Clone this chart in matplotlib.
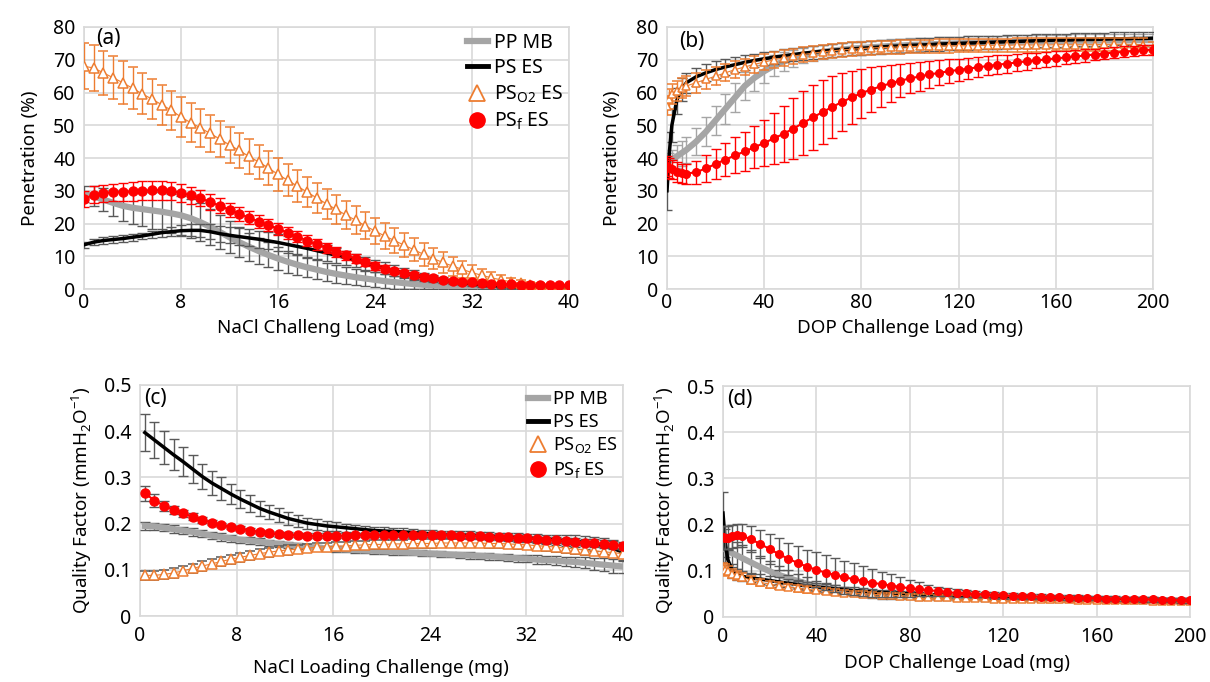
import numpy as np
import matplotlib.pyplot as plt
from matplotlib.lines import Line2D

plt.rcParams['font.family'] = ['Noto Sans', 'DejaVu Sans']

GRAY = '#A5A5A5'
DARK = '#595959'
ORANGE = '#ED7D31'
RED = '#FF0000'
GRID = '#D9D9D9'

# loading axes (mg)
nacl_a = np.arange(51) * 0.8
nacl_c = np.linspace(0.4, 40, 51)
dop = np.array([0, 1, 2, 4, 6] + list(range(8, 201, 4)))

# ---- (a) penetration vs NaCl load ----
pen_pp_a = [29.0, 28.3, 27.3, 26.3, 25.4, 24.8, 24.4, 24.0, 23.6, 23.1,
            22.5, 21.6, 20.4, 19.0, 17.4, 15.8, 14.3, 12.9, 11.6, 10.4,
            9.3, 8.3, 7.4, 6.6, 5.9, 5.2, 4.6, 4.1, 3.6, 3.2,
            2.8, 2.4, 2.1, 1.8, 1.5, 1.3, 1.1, 0.9, 0.8, 0.7,
            0.6, 0.5, 0.4, 0.4, 0.3, 0.3, 0.2, 0.2, 0.2, 0.2, 0.2]
err_pp_a = [2.5, 3.0, 3.5, 4.0, 4.5, 5.0, 5.3, 5.6, 5.9, 6.0,
            6.0, 6.0, 5.8, 5.5, 5.2, 4.9, 4.6, 4.3, 4.0, 3.8,
            3.6, 3.4, 3.2, 3.0, 2.9, 2.8, 2.7, 2.6, 2.5, 2.4,
            2.3, 2.2, 2.0, 1.8, 1.6, 1.4, 1.2, 1.0, 0.9, 0.8,
            0.7, 0.6, 0.5, 0.5, 0.4, 0.4, 0.3, 0.3, 0.3, 0.3, 0.3]
pen_ps_a = [13.5, 14.3, 14.8, 15.1, 15.4, 15.8, 16.2, 16.7, 17.2, 17.5,
            17.8, 17.9, 17.9, 17.5, 16.9, 16.4, 16.0, 15.6, 15.2, 14.7,
            14.2, 13.6, 13.0, 12.4, 11.7, 11.0, 10.3, 9.5, 8.7, 7.9,
            7.1, 6.3, 5.6, 4.9, 4.3, 3.7, 3.2, 2.7, 2.3, 1.9,
            1.6, 1.3, 1.1, 0.9, 0.8, 0.7, 0.6, 0.5, 0.5, 0.4, 0.4]
err_ps_a = [1.0, 1.0, 1.0, 1.0, 1.0, 1.0, 1.0, 1.0, 1.2, 1.4,
            1.6, 1.8, 2.0, 2.2, 2.4, 2.5, 2.6, 2.6, 2.6, 2.6,
            2.6, 2.6, 2.5, 2.5, 2.4, 2.4, 2.3, 2.2, 2.1, 2.0,
            1.9, 1.8, 1.7, 1.6, 1.4, 1.2, 1.1, 1.0, 0.9, 0.8,
            0.7, 0.6, 0.5, 0.5, 0.4, 0.4, 0.3, 0.3, 0.3, 0.3, 0.3]
pen_o2_a = [68.0, 67.5, 66.0, 64.5, 63.0, 61.3, 59.6, 58.0, 56.3, 54.6,
            52.5, 50.8, 49.2, 47.5, 45.8, 44.0, 42.3, 40.5, 38.8, 37.0,
            35.0, 33.2, 31.4, 29.6, 27.8, 26.0, 24.3, 22.6, 21.0, 19.3,
            17.7, 16.2, 14.8, 13.4, 12.0, 10.6, 9.3, 8.1, 7.0, 6.0,
            5.0, 4.2, 3.4, 2.8, 2.2, 1.7, 1.3, 1.0, 0.8, 0.6, 0.5]
err_o2_a = [7.0, 7.0, 6.8, 6.6, 6.5, 6.4, 6.3, 6.2, 6.1, 6.0,
            6.0, 5.9, 5.8, 5.7, 5.6, 5.5, 5.4, 5.3, 5.2, 5.1,
            5.0, 4.9, 4.8, 4.7, 4.6, 4.5, 4.4, 4.3, 4.2, 4.1,
            4.0, 3.9, 3.8, 3.7, 3.6, 3.5, 3.3, 3.1, 2.9, 2.6,
            2.3, 2.0, 1.7, 1.4, 1.2, 1.0, 0.8, 0.7, 0.6, 0.5, 0.4]
pen_f_a = [27.5, 28.8, 29.3, 29.5, 29.6, 29.8, 30.0, 30.2, 30.2, 29.9,
           29.3, 28.6, 27.7, 26.6, 25.4, 24.2, 23.0, 21.8, 20.6, 19.5,
           18.4, 17.2, 16.0, 14.8, 13.6, 12.5, 11.4, 10.3, 9.3, 8.1,
           7.0, 6.2, 5.5, 4.9, 4.3, 3.8, 3.3, 2.9, 2.5, 2.2,
           2.0, 1.8, 1.6, 1.5, 1.4, 1.3, 1.3, 1.2, 1.2, 1.2, 1.2]
err_f_a = [2.5, 2.5, 2.6, 2.7, 2.8, 2.8, 2.9, 2.9, 2.9, 2.8,
           2.7, 2.6, 2.5, 2.4, 2.3, 2.2, 2.1, 2.0, 2.0, 1.9,
           1.9, 1.8, 1.8, 1.7, 1.7, 1.6, 1.5, 1.4, 1.3, 1.2,
           1.1, 1.0, 0.9, 0.8, 0.8, 0.7, 0.7, 0.6, 0.6, 0.5,
           0.5, 0.5, 0.4, 0.4, 0.4, 0.4, 0.3, 0.3, 0.3, 0.3, 0.3]

# ---- (b) penetration vs DOP load ----
pen_pp_b = [38.5, 39.0, 39.5, 40.5, 41.5, 42.5, 45.0, 48.0, 51.5, 55.0,
            58.5, 62.0, 64.5, 66.5, 68.2, 69.5, 70.5, 71.3, 71.9, 72.4,
            72.8, 73.1, 73.4, 73.6, 73.8, 74.0, 74.2, 74.3, 74.5, 74.6,
            74.7, 74.8, 74.9, 75.0, 75.1, 75.2, 75.3, 75.3, 75.4, 75.5,
            75.5, 75.6, 75.6, 75.7, 75.7, 75.8, 75.8, 75.8, 75.9, 75.9,
            75.9, 76.0, 76.0, 76.0]
err_pp_b = [2.0, 2.5, 3.0, 3.5, 3.8, 4.0, 4.2, 4.4, 4.5, 4.5,
            4.4, 4.2, 4.0, 3.6, 3.2, 2.9, 2.6, 2.4, 2.2, 2.1,
            2.0, 2.0, 2.0, 2.0, 2.0, 2.0, 2.0, 2.0, 2.0, 2.0,
            2.0, 2.0, 2.0, 2.0, 2.0, 2.0, 2.0, 2.0, 2.0, 2.0,
            2.0, 2.0, 2.0, 2.0, 2.0, 2.0, 2.0, 2.0, 2.0, 2.0,
            2.0, 2.0, 2.0, 2.0]
pen_ps_b = [30.0, 42.0, 50.0, 57.5, 61.0, 63.0, 64.8, 66.0, 67.0, 67.8,
            68.5, 69.2, 69.8, 70.3, 70.8, 71.2, 71.6, 72.0, 72.3, 72.6,
            72.9, 73.1, 73.3, 73.5, 73.7, 73.9, 74.1, 74.2, 74.4, 74.5,
            74.6, 74.8, 74.9, 75.0, 75.1, 75.2, 75.3, 75.4, 75.5, 75.6,
            75.7, 75.8, 75.9, 76.0, 76.0, 76.1, 76.2, 76.2, 76.3, 76.4,
            76.4, 76.5, 76.5, 76.6]
err_ps_b = [6.0, 6.0, 5.0, 4.0, 3.5, 3.0, 2.8, 2.6, 2.5, 2.4,
            2.3, 2.2, 2.1, 2.0, 2.0, 2.0, 2.0, 2.0, 2.0, 2.0,
            2.0, 2.0, 2.0, 2.0, 2.0, 2.0, 2.0, 2.0, 2.0, 2.0,
            2.0, 2.0, 2.0, 2.0, 2.0, 2.0, 2.0, 2.0, 2.0, 2.0,
            2.0, 2.0, 2.0, 2.0, 2.0, 2.0, 2.0, 2.0, 2.0, 2.0,
            2.0, 2.0, 2.0, 2.0]
pen_o2_b = [56.0, 58.0, 59.5, 60.5, 61.3, 62.0, 63.0, 64.0, 65.0, 66.0,
            67.0, 67.8, 68.6, 69.3, 70.0, 70.6, 71.1, 71.6, 72.0, 72.4,
            72.7, 73.0, 73.2, 73.4, 73.6, 73.7, 73.8, 73.9, 74.0, 74.1,
            74.1, 74.2, 74.2, 74.3, 74.3, 74.3, 74.4, 74.4, 74.4, 74.5,
            74.5, 74.5, 74.5, 74.6, 74.6, 74.6, 74.6, 74.6, 74.7, 74.7,
            74.7, 74.7, 74.6, 73.5]
err_o2_b = [3.0, 3.0, 3.0, 3.0, 3.0, 3.0, 3.0, 2.8, 2.7, 2.6,
            2.5, 2.5, 2.5, 2.4, 2.4, 2.4, 2.3, 2.3, 2.3, 2.2,
            2.2, 2.2, 2.1, 2.1, 2.1, 2.0, 2.0, 2.0, 2.0, 2.0,
            2.0, 2.0, 2.0, 2.0, 2.0, 2.0, 2.0, 2.0, 2.0, 2.0,
            2.0, 2.0, 2.0, 2.0, 2.0, 2.0, 2.0, 2.0, 2.0, 2.0,
            2.0, 2.0, 2.0, 2.0]
pen_f_b = [37.5, 37.0, 36.5, 35.8, 35.3, 35.2, 35.7, 36.8, 38.2, 39.5,
           40.8, 42.0, 43.3, 44.6, 46.0, 47.4, 49.0, 50.7, 52.4, 54.0,
           55.6, 57.1, 58.5, 59.8, 60.9, 61.9, 62.8, 63.6, 64.3, 64.9,
           65.5, 66.0, 66.5, 66.9, 67.3, 67.7, 68.1, 68.5, 68.8, 69.2,
           69.5, 69.8, 70.1, 70.4, 70.7, 71.0, 71.3, 71.6, 71.9, 72.2,
           72.4, 72.7, 72.9, 73.1]
err_f_b = [3.0, 3.0, 3.0, 3.0, 3.0, 3.0, 3.5, 4.0, 4.5, 5.0,
           5.5, 6.0, 6.5, 7.0, 7.8, 8.5, 9.2, 9.8, 10.0, 9.8,
           9.4, 8.8, 8.2, 7.5, 6.8, 6.2, 5.6, 5.1, 4.6, 4.3,
           4.0, 3.8, 3.6, 3.4, 3.2, 3.0, 2.9, 2.8, 2.7, 2.6,
           2.5, 2.4, 2.3, 2.2, 2.1, 2.0, 1.9, 1.8, 1.8, 1.7,
           1.7, 1.6, 1.6, 1.5]

# ---- (c) quality factor vs NaCl load ----
qf_pp_c = [0.195, 0.194, 0.191, 0.188, 0.185, 0.182, 0.178, 0.174, 0.171, 0.168,
           0.165, 0.163, 0.161, 0.158, 0.156, 0.154, 0.152, 0.150, 0.148, 0.146,
           0.145, 0.144, 0.143, 0.142, 0.141, 0.140, 0.139, 0.138, 0.137, 0.136,
           0.135, 0.134, 0.133, 0.132, 0.131, 0.130, 0.129, 0.128, 0.126, 0.125,
           0.124, 0.122, 0.121, 0.120, 0.118, 0.117, 0.115, 0.113, 0.111, 0.109, 0.107]
err_pp_c = [0.008, 0.008, 0.008, 0.008, 0.008, 0.008, 0.008, 0.008, 0.008, 0.008,
            0.007, 0.007, 0.007, 0.007, 0.007, 0.007, 0.006, 0.006, 0.006, 0.006,
            0.006, 0.006, 0.006, 0.006, 0.006, 0.006, 0.006, 0.006, 0.006, 0.006,
            0.006, 0.006, 0.006, 0.006, 0.007, 0.007, 0.007, 0.007, 0.008, 0.008,
            0.008, 0.009, 0.009, 0.010, 0.010, 0.011, 0.012, 0.013, 0.014, 0.015, 0.015]
qf_ps_c = [0.397, 0.381, 0.365, 0.349, 0.334, 0.318, 0.302, 0.288, 0.276, 0.264,
           0.253, 0.243, 0.233, 0.225, 0.218, 0.211, 0.206, 0.201, 0.198, 0.195,
           0.193, 0.191, 0.189, 0.187, 0.185, 0.184, 0.183, 0.182, 0.181, 0.179,
           0.178, 0.177, 0.176, 0.176, 0.175, 0.174, 0.173, 0.172, 0.171, 0.170,
           0.169, 0.168, 0.166, 0.165, 0.163, 0.162, 0.159, 0.156, 0.152, 0.146, 0.138]
err_ps_c = [0.040, 0.038, 0.036, 0.034, 0.032, 0.030, 0.028, 0.026, 0.024, 0.022,
            0.020, 0.018, 0.017, 0.016, 0.015, 0.014, 0.013, 0.012, 0.011, 0.010,
            0.010, 0.009, 0.009, 0.008, 0.008, 0.008, 0.008, 0.008, 0.008, 0.008,
            0.008, 0.008, 0.008, 0.008, 0.008, 0.008, 0.008, 0.008, 0.008, 0.009,
            0.009, 0.010, 0.010, 0.011, 0.012, 0.013, 0.014, 0.015, 0.017, 0.019, 0.020]
qf_o2_c = [0.088, 0.088, 0.090, 0.093, 0.098, 0.103, 0.108, 0.113, 0.118, 0.123,
           0.127, 0.131, 0.135, 0.138, 0.141, 0.143, 0.145, 0.147, 0.149, 0.150,
           0.151, 0.152, 0.153, 0.154, 0.155, 0.155, 0.156, 0.156, 0.157, 0.157,
           0.157, 0.158, 0.158, 0.158, 0.158, 0.158, 0.157, 0.157, 0.156, 0.155,
           0.154, 0.152, 0.151, 0.149, 0.147, 0.145, 0.143, 0.141, 0.139, 0.137, 0.135]
err_o2_c = [0.010, 0.010, 0.010, 0.010, 0.010, 0.010, 0.010, 0.010, 0.010, 0.010,
            0.010, 0.010, 0.010, 0.010, 0.010, 0.010, 0.009, 0.009, 0.009, 0.009,
            0.009, 0.009, 0.009, 0.009, 0.009, 0.009, 0.009, 0.009, 0.009, 0.009,
            0.009, 0.009, 0.009, 0.009, 0.009, 0.009, 0.009, 0.009, 0.009, 0.009,
            0.009, 0.009, 0.010, 0.010, 0.010, 0.010, 0.010, 0.010, 0.010, 0.010, 0.010]
qf_f_c = [0.266, 0.250, 0.239, 0.230, 0.222, 0.215, 0.208, 0.202, 0.197, 0.193,
          0.189, 0.185, 0.182, 0.179, 0.177, 0.176, 0.175, 0.174, 0.174, 0.174,
          0.174, 0.174, 0.175, 0.175, 0.175, 0.175, 0.175, 0.175, 0.175, 0.175,
          0.175, 0.175, 0.175, 0.174, 0.174, 0.173, 0.172, 0.171, 0.170, 0.169,
          0.168, 0.166, 0.165, 0.164, 0.162, 0.161, 0.159, 0.158, 0.156, 0.154, 0.152]
err_f_c = [0.016, 0.013, 0.011, 0.009, 0.008, 0.007, 0.006, 0.006, 0.005, 0.005,
           0.005, 0.005, 0.005, 0.005, 0.005, 0.005, 0.005, 0.005, 0.005, 0.005,
           0.005, 0.005, 0.005, 0.005, 0.005, 0.005, 0.005, 0.005, 0.005, 0.005,
           0.005, 0.005, 0.005, 0.005, 0.005, 0.005, 0.005, 0.005, 0.005, 0.006,
           0.006, 0.006, 0.006, 0.007, 0.007, 0.007, 0.008, 0.008, 0.008, 0.009, 0.009]

# ---- (d) quality factor vs DOP load ----
qf_pp_d = [0.148, 0.146, 0.143, 0.138, 0.133, 0.128, 0.118, 0.108, 0.099, 0.091,
           0.084, 0.078, 0.072, 0.067, 0.063, 0.059, 0.056, 0.053, 0.051, 0.049,
           0.047, 0.046, 0.045, 0.044, 0.043, 0.043, 0.042, 0.042, 0.041, 0.041,
           0.041, 0.040, 0.040, 0.040, 0.039, 0.039, 0.039, 0.039, 0.038, 0.038,
           0.038, 0.038, 0.037, 0.037, 0.037, 0.037, 0.036, 0.036, 0.036, 0.036,
           0.036, 0.035, 0.035, 0.035]
err_pp_d = [0.030, 0.030, 0.030, 0.030, 0.030, 0.028, 0.026, 0.024, 0.022, 0.020,
            0.018, 0.016, 0.014, 0.012, 0.011, 0.010, 0.009, 0.008, 0.008, 0.007,
            0.007, 0.006, 0.006, 0.006, 0.006, 0.005, 0.005, 0.005, 0.005, 0.005,
            0.005, 0.005, 0.005, 0.005, 0.005, 0.005, 0.005, 0.005, 0.005, 0.005,
            0.005, 0.005, 0.005, 0.005, 0.005, 0.005, 0.005, 0.005, 0.005, 0.005,
            0.005, 0.005, 0.005, 0.005]
qf_ps_d = [0.225, 0.160, 0.125, 0.100, 0.092, 0.088, 0.085, 0.082, 0.079, 0.076,
           0.073, 0.070, 0.067, 0.065, 0.063, 0.061, 0.059, 0.057, 0.056, 0.054,
           0.053, 0.052, 0.051, 0.050, 0.049, 0.048, 0.047, 0.046, 0.045, 0.045,
           0.044, 0.044, 0.043, 0.043, 0.042, 0.042, 0.042, 0.041, 0.041, 0.041,
           0.040, 0.040, 0.040, 0.039, 0.039, 0.039, 0.038, 0.038, 0.038, 0.038,
           0.037, 0.037, 0.037, 0.037]
err_ps_d = [0.045, 0.030, 0.020, 0.015, 0.012, 0.010, 0.010, 0.010, 0.010, 0.010,
            0.009, 0.009, 0.009, 0.008, 0.008, 0.008, 0.007, 0.007, 0.007, 0.006,
            0.006, 0.006, 0.006, 0.006, 0.005, 0.005, 0.005, 0.005, 0.005, 0.005,
            0.005, 0.005, 0.005, 0.005, 0.005, 0.005, 0.005, 0.005, 0.005, 0.005,
            0.005, 0.005, 0.005, 0.005, 0.005, 0.005, 0.005, 0.005, 0.005, 0.005,
            0.005, 0.005, 0.005, 0.005]
qf_o2_d = [0.105, 0.102, 0.099, 0.094, 0.090, 0.086, 0.080, 0.075, 0.071, 0.068,
           0.065, 0.062, 0.060, 0.058, 0.056, 0.054, 0.053, 0.051, 0.050, 0.049,
           0.048, 0.047, 0.046, 0.045, 0.044, 0.044, 0.043, 0.043, 0.042, 0.042,
           0.041, 0.041, 0.040, 0.040, 0.040, 0.039, 0.039, 0.039, 0.038, 0.038,
           0.038, 0.037, 0.037, 0.037, 0.037, 0.036, 0.036, 0.036, 0.036, 0.035,
           0.035, 0.035, 0.035, 0.035]
err_o2_d = [0.012, 0.012, 0.011, 0.010, 0.010, 0.009, 0.009, 0.008, 0.008, 0.008,
            0.007, 0.007, 0.007, 0.007, 0.006, 0.006, 0.006, 0.006, 0.006, 0.006,
            0.005, 0.005, 0.005, 0.005, 0.005, 0.005, 0.005, 0.005, 0.005, 0.005,
            0.005, 0.005, 0.005, 0.005, 0.005, 0.005, 0.005, 0.005, 0.005, 0.005,
            0.005, 0.005, 0.005, 0.005, 0.005, 0.005, 0.005, 0.005, 0.005, 0.005,
            0.005, 0.005, 0.005, 0.005]
qf_f_d = [0.173, 0.172, 0.172, 0.175, 0.177, 0.176, 0.168, 0.158, 0.147, 0.136,
          0.126, 0.117, 0.109, 0.102, 0.096, 0.091, 0.086, 0.082, 0.078, 0.074,
          0.071, 0.068, 0.065, 0.062, 0.060, 0.058, 0.056, 0.054, 0.052, 0.051,
          0.050, 0.049, 0.048, 0.047, 0.046, 0.045, 0.045, 0.044, 0.043, 0.043,
          0.042, 0.042, 0.041, 0.041, 0.040, 0.040, 0.039, 0.039, 0.038, 0.038,
          0.037, 0.037, 0.036, 0.036]
err_f_d = [0.025, 0.025, 0.025, 0.025, 0.025, 0.025, 0.028, 0.030, 0.032, 0.034,
           0.035, 0.036, 0.037, 0.038, 0.038, 0.037, 0.036, 0.034, 0.032, 0.030,
           0.027, 0.024, 0.021, 0.018, 0.015, 0.012, 0.010, 0.009, 0.008, 0.007,
           0.007, 0.006, 0.006, 0.006, 0.005, 0.005, 0.005, 0.005, 0.005, 0.005,
           0.005, 0.005, 0.005, 0.005, 0.005, 0.005, 0.005, 0.005, 0.005, 0.005,
           0.005, 0.005, 0.005, 0.005]

labels = ['PP MB', 'PS ES', r'PS$_\mathregular{O2}$ ES', r'PS$_\mathregular{f}$ ES']


def series(ax, x, y, err, kind, ecolor, ms=7, cap=3.5):
    common = dict(yerr=err, ecolor=ecolor, elinewidth=1, capsize=cap, capthick=1)
    if kind == 'pp':
        ax.errorbar(x, y, fmt='-', color=GRAY, lw=4.5, zorder=3, **common)
    elif kind == 'ps':
        ax.errorbar(x, y, fmt='-', color='black', lw=2.5, zorder=4, **common)
    elif kind == 'o2':
        ax.errorbar(x, y, fmt='-^', color=ORANGE, lw=0.8, ms=ms, mfc='white',
                    mec=ORANGE, mew=1.1, zorder=5, **common)
    else:
        ax.errorbar(x, y, fmt='-o', color=RED, lw=1.5, ms=ms, mec=RED,
                    zorder=6, **common)


def style(ax, xmax, xstep, ymax, ystep, yfmt, xpad):
    ax.set_xlim(0, xmax)
    ax.set_ylim(0, ymax)
    ax.set_xticks(np.arange(0, xmax + 0.001, xstep))
    yt = np.arange(0, ymax + ystep / 2, ystep)
    ax.set_yticks(yt)
    ax.set_yticklabels([yfmt(v) for v in yt])
    ax.grid(True, color=GRID, lw=1.2, zorder=0)
    ax.set_axisbelow(True)
    for s in ax.spines.values():
        s.set_color(GRID)
        s.set_linewidth(1.2)
    ax.tick_params(length=0, labelsize=14, pad=6)
    ax.tick_params(axis='x', pad=xpad)


def legend(ax, fs, spacing):
    handles = [Line2D([], [], color=GRAY, lw=4.5),
               Line2D([], [], color='black', lw=3.5),
               Line2D([], [], ls='none', marker='^', ms=11, mfc='white',
                      mec=ORANGE, mew=1.3),
               Line2D([], [], ls='none', marker='o', ms=11, color=RED)]
    ax.legend(handles, labels, loc='upper right', frameon=False, fontsize=fs,
              handlelength=1.1, handletextpad=0.3, labelspacing=spacing,
              borderaxespad=0.2, borderpad=0.1)


fig = plt.figure(figsize=(12.1, 6.82), dpi=100)
W, H = 1210, 682


def axes_px(x0, x1, ytop, ybot):
    return fig.add_axes([x0 / W, 1 - ybot / H, (x1 - x0) / W, (ybot - ytop) / H])


ax_a = axes_px(84, 569, 27, 289)
ax_b = axes_px(667, 1153, 27, 289)
ax_c = axes_px(140, 623, 385, 616)
ax_d = axes_px(723, 1190, 386, 617)

pct = lambda v: f'{int(round(v))}'
qf = lambda v: '0' if abs(v) < 1e-9 else f'{v:.1f}'

# (a)
series(ax_a, nacl_a, pen_pp_a, err_pp_a, 'pp', DARK)
series(ax_a, nacl_a, pen_ps_a, err_ps_a, 'ps', DARK)
series(ax_a, nacl_a, pen_o2_a, err_o2_a, 'o2', ORANGE, ms=7.5)
series(ax_a, nacl_a, pen_f_a, err_f_a, 'f', RED, ms=6.5)
style(ax_a, 40, 8, 80, 10, pct, 3)
legend(ax_a, 14, 0.28)

# (b)
series(ax_b, dop, pen_pp_b, err_pp_b, 'pp', GRAY)
series(ax_b, dop, pen_ps_b, err_ps_b, 'ps', DARK)
series(ax_b, dop, pen_o2_b, err_o2_b, 'o2', ORANGE, ms=6)
series(ax_b, dop, pen_f_b, err_f_b, 'f', RED, ms=5.5)
style(ax_b, 200, 40, 80, 10, pct, 3)

# (c)
series(ax_c, nacl_c, qf_pp_c, err_pp_c, 'pp', DARK)
series(ax_c, nacl_c, qf_ps_c, err_ps_c, 'ps', DARK)
series(ax_c, nacl_c, qf_o2_c, err_o2_c, 'o2', DARK, ms=7)
series(ax_c, nacl_c, qf_f_c, err_f_c, 'f', DARK, ms=6.5)
style(ax_c, 40, 8, 0.5, 0.1, qf, 7)
legend(ax_c, 13, 0.25)

# (d)
series(ax_d, dop, qf_pp_d, err_pp_d, 'pp', DARK)
series(ax_d, dop, qf_ps_d, err_ps_d, 'ps', DARK)
series(ax_d, dop, qf_o2_d, err_o2_d, 'o2', ORANGE, ms=6)
series(ax_d, dop, qf_f_d, err_f_d, 'f', DARK, ms=5.5)
style(ax_d, 200, 40, 0.5, 0.1, qf, 7)

for ax, tag, dx, dy in [(ax_a, '(a)', 0.025, 0.995), (ax_b, '(b)', 0.025, 0.985),
                        (ax_c, '(c)', 0.008, 0.985), (ax_d, '(d)', 0.008, 0.985)]:
    ax.text(dx, dy, tag, transform=ax.transAxes, fontsize=15, va='top', ha='left',
            zorder=10)


# axis titles placed in figure pixels
def ftext(x, y, s, rot=0):
    fig.text(x / W, 1 - y / H, s, ha='center', va='center', rotation=rot, fontsize=13.5)


ftext(30, 158, 'Penetration (%)', 90)
ftext(326, 328, 'NaCl Challeng Load (mg)')
ftext(612, 158, 'Penetration (%)', 90)
ftext(910, 328, 'DOP Challenge Load (mg)')
qlabel = r'Quality Factor (mmH$_\mathregular{2}$O$^\mathregular{-1}$)'
ftext(82, 500, qlabel, 90)
ftext(381, 668, 'NaCl Loading Challenge (mg)')
ftext(665, 500, qlabel, 90)
ftext(957, 663, 'DOP Challenge Load (mg)')

fig.savefig('out.png', dpi=100)
